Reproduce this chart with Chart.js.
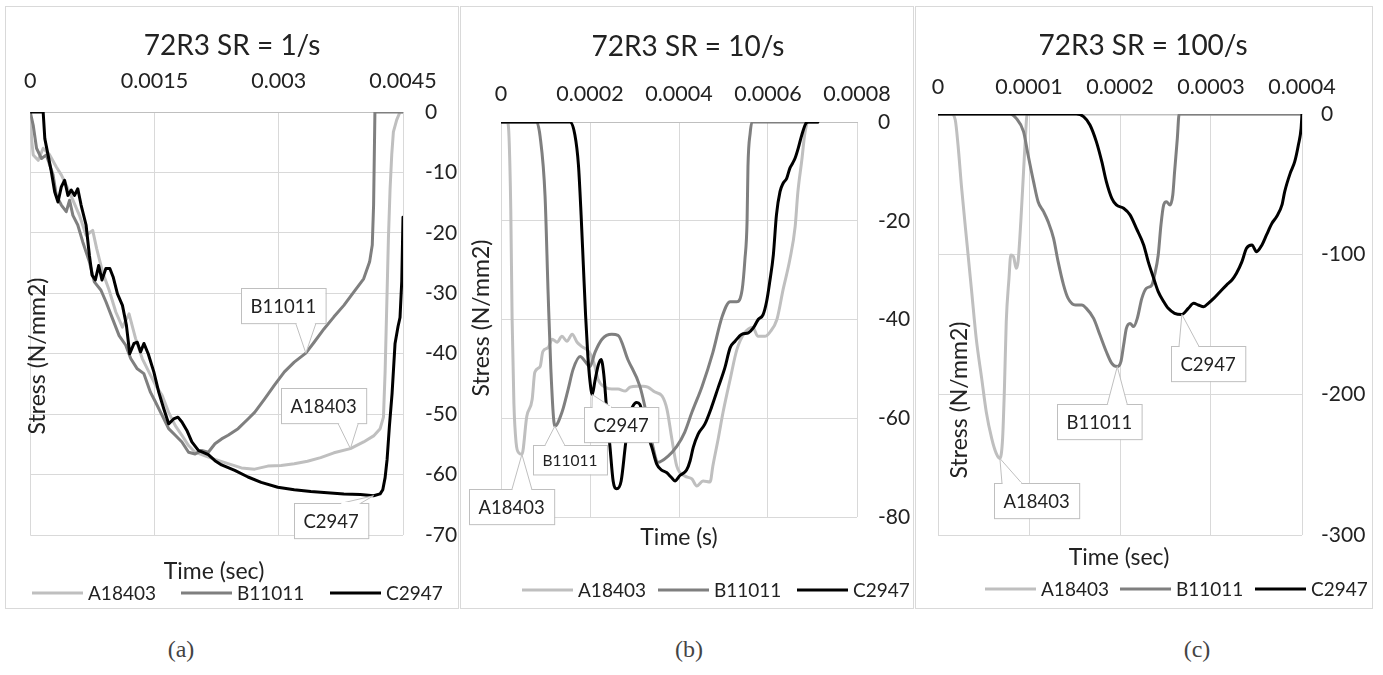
<!DOCTYPE html>
<html>
<head>
<meta charset="utf-8">
<script src="https://cdn.jsdelivr.net/npm/chart.js@4.4.1/dist/chart.umd.min.js"></script>
<style>
body{margin:0;background:#fff;width:1383px;height:675px;position:relative;overflow:hidden}
.panel{position:absolute;top:6px;height:603px;border:1px solid #d9d9d9;box-sizing:border-box}
canvas{position:absolute}
.cap{position:absolute;top:636px;width:60px;margin-left:-30px;text-align:center;font-family:'Liberation Serif',serif;font-size:24px;color:#444}
</style>
</head>
<body>
<div class="panel" style="left:5px;width:454px"></div>
<div class="panel" style="left:460px;width:454px"></div>
<div class="panel" style="left:915px;width:458px"></div>
<canvas id="chSR1"></canvas>
<canvas id="chSR10"></canvas>
<canvas id="chSR100"></canvas>
<div class="cap" style="left:181px">(a)</div>
<div class="cap" style="left:689px">(b)</div>
<div class="cap" style="left:1197px">(c)</div>
<script>
// series + colours
const seriesNames=['A18403','B11011','C2947'];
const seriesColors=['#bfbfbf','#7f7f7f','#000000'];

// time in microseconds, stress in N/mm2
// SR = 1/s
const sr1XTicks=[0,0.0015,0.003,0.0045];
const sr1YTicks=[0,-10,-20,-30,-40,-50,-60,-70];
const sr1TimeA=[0,16,36,96,156,235,315,375,435,515,594,674,754,802,874,953,1033,1113,1193,1272,1352,1432,1512,1592,1671,1751,1831,1911,1991,2110,2230,2389,2549,2709,2868,3028,3187,3347,3506,3666,3865,4025,4145,4224,4264,4284,4304,4324,4344,4364,4384,4424,4464,4500];
const sr1StressA=[0,-4.4,-7.1,-8.0,-6.0,-7.1,-9.1,-10.4,-12.1,-14.6,-17.1,-20.4,-19.6,-22.6,-26.5,-29.5,-33.1,-35.6,-33.4,-37.5,-40.8,-43.0,-45.2,-46.9,-49.7,-51.9,-53.5,-55.2,-56.3,-56.9,-57.5,-58.2,-58.9,-59.1,-58.6,-58.5,-58.2,-57.8,-57.2,-56.4,-55.7,-54.6,-53.6,-52.4,-50.5,-43.0,-32.0,-20.9,-12.7,-7.1,-3.3,-1.3,0,0];
const sr1TimeB=[0,36,76,136,195,275,315,375,435,475,515,574,634,714,774,854,914,993,1073,1153,1213,1292,1372,1452,1512,1592,1671,1751,1831,1911,1991,2070,2150,2230,2310,2389,2509,2629,2709,2828,2948,3068,3187,3327,3427,3546,3666,3786,3905,4025,4097,4129,4145,4161,4500];
const sr1StressB=[0,-2.2,-6.0,-7.7,-7.1,-10.4,-13.8,-15.4,-16.5,-14.6,-17.1,-18.7,-21.5,-24.8,-28.1,-29.5,-31.4,-34.2,-37.0,-38.6,-40.8,-42.5,-43.3,-46.4,-48.0,-50.2,-52.4,-53.5,-54.6,-56.3,-56.6,-56.0,-56.3,-54.9,-54.1,-53.5,-52.4,-50.8,-49.7,-47.5,-45.2,-43.0,-41.4,-39.9,-38.1,-35.9,-33.9,-32.0,-29.8,-27.6,-24.8,-22.0,-15.4,0,0];
const sr1TimeC=[0,156,176,215,255,295,335,375,415,455,495,535,574,614,674,714,746,786,826,866,913,961,1001,1053,1113,1161,1201,1253,1292,1332,1372,1424,1492,1552,1612,1671,1731,1783,1831,1891,1951,2030,2150,2230,2310,2469,2629,2788,2988,3187,3387,3586,3786,3985,4145,4224,4256,4284,4308,4336,4368,4404,4440,4464,4485,4500];
const sr1StressC=[0,0,-4.4,-7.1,-9.9,-13.2,-14.9,-12.4,-11.3,-13.8,-12.9,-13.8,-12.7,-15.4,-18.7,-23.7,-27.0,-27.8,-25.4,-27.8,-25.9,-25.9,-27.3,-30.1,-32.0,-35.3,-40.0,-38.3,-38.1,-39.7,-38.3,-40.0,-43.0,-46.4,-49.1,-51.6,-50.8,-50.5,-51.3,-52.7,-54.6,-56.0,-56.7,-57.7,-58.4,-59.3,-60.4,-61.3,-62.1,-62.5,-62.8,-63.0,-63.2,-63.3,-63.5,-63.2,-62.5,-60.5,-57.5,-52.0,-46.6,-38.3,-35.5,-34.0,-28.0,-17.4];

// SR = 10/s
const sr10XTicks=[0,0.0002,0.0004,0.0006,0.0008];
const sr10YTicks=[0,-20,-40,-60,-80];
const sr10TimeA=[0,14,18,22,25,29,34,40,47,58,70,76,88,94,106,115,126,137,148,160,171,182,193,204,211,218,234,249,263,279,290,306,319,330,346,362,373,384,395,413,429,440,454,470,476,488,499,515,530,548,566,577,593,604,620,634,649,661,667,676,683,690,712];
const sr10StressA=[0,0,-3,-18,-40,-57,-65,-67,-67.3,-59.6,-56.2,-50.7,-49.5,-46.5,-45.7,-44.0,-44.6,-43.4,-44.4,-43.0,-44.6,-45.5,-46.1,-47.5,-49.5,-52.1,-53.7,-54.1,-54.1,-54.5,-53.7,-53.5,-53.5,-53.7,-54.7,-55.5,-58.2,-64.2,-69.7,-71.7,-72.3,-73.7,-72.7,-72.9,-69.7,-64.2,-58.8,-52.1,-46.1,-42.6,-41.6,-43.4,-43.4,-42.6,-40.0,-33.9,-27.9,-21.2,-14.3,-7.7,-2.2,0,0];
const sr10TimeB=[0,80,88,99,106,112,121,137,151,162,178,189,200,211,227,249,263,285,312,328,339,353,375,395,413,429,452,476,497,515,530,542,548,553,555,560,564,712];
const sr10StressB=[0,0,-3,-15,-35,-50,-61.6,-58.8,-54.1,-50.1,-47.5,-48.5,-49.5,-46.7,-44.0,-43.0,-43.2,-48.1,-53.5,-59.6,-64.8,-68.9,-67.7,-65.7,-62.8,-58.8,-53.5,-46.7,-39.4,-36.4,-36.4,-33.9,-28,-20,-9,-2.2,0,0];
const sr10TimeC=[0,155,166,174,180,185,190,195,200,205,211,219,225,231,237,245,252,260,270,279,286,295,305,312,327,339,350,361,372,383,391,402,417,425,432,443,458,473,488,503,515,526,541,556,567,578,589,597,604,612,619,627,634,642,649,655,661,668,676,685,691,712];
const sr10StressC=[0,0,-2.6,-8.7,-18.8,-28.9,-39.0,-47.1,-52.5,-55.2,-52.5,-49.1,-48.1,-51.1,-57.8,-65.9,-72.7,-74.3,-72.7,-65.9,-60.5,-57.8,-56.8,-57.2,-62.6,-65.9,-69.3,-70.5,-71.0,-72.0,-72.7,-71.6,-70.5,-68.6,-65.9,-63.2,-61.2,-57.8,-53.8,-49.8,-45.7,-44.4,-43.0,-42.7,-41.7,-40.0,-39.0,-36.3,-32.3,-26.9,-18.8,-14.1,-12.4,-11.4,-9.4,-8.4,-7.3,-5.3,-2.6,-0.3,0,0];

// SR = 100/s
const sr100XTicks=[0,0.0001,0.0002,0.0003,0.0004];
const sr100YTicks=[0,-100,-200,-300];
const sr100TimeA=[0,15,19,22,26,32,37,42,48,53,59,64,68,71,73,75,78,80,83,86,88,91,94,96,98,400];
const sr100StressA=[0,0,-4.3,-22.1,-53.0,-93.3,-126.6,-159.9,-188.4,-212.1,-231.1,-241.8,-245.4,-231.1,-195.5,-148.0,-117.1,-100.5,-101.7,-110.0,-105.2,-76.7,-41.1,-17.3,0,0];
const sr100TimeB=[0,79,86,94,99,105,110,116,121,127,132,138,143,151,158,163,171,178,185,191,197,201,204,207,211,215,219,224,229,235,238,242,245,248,251,255,258,260,263,265,400];
const sr100StressB=[0,0,-3.1,-12.6,-29.2,-48.2,-62.5,-69.6,-76.7,-88.6,-105.2,-121.9,-131.4,-136.1,-136.1,-138.5,-145.6,-157.5,-169.4,-177.7,-180.0,-176.5,-164.6,-152.7,-149.2,-151.5,-145.6,-131.4,-124.2,-121.9,-114.7,-100.5,-79.1,-64.8,-62.5,-64.8,-57.7,-41.1,-17.3,0,0];
const sr100TimeC=[0,152,160,167,174,180,185,191,196,204,211,218,226,231,237,242,248,253,260,268,275,281,286,292,297,303,310,317,323,328,334,339,345,350,356,361,367,372,378,381,387,392,396,399,400];
const sr100StressC=[0,0,-1.9,-7.8,-19.7,-34.0,-48.2,-60.1,-64.8,-67.2,-71.9,-81.5,-93.3,-105.2,-117.1,-126.6,-133.7,-138.5,-142.0,-142.8,-138.5,-134.9,-136.1,-137.3,-134.9,-131.4,-126.6,-121.9,-118.3,-113.5,-105.2,-95.7,-93.3,-98.1,-93.3,-86.2,-77.9,-73.2,-64.8,-55.3,-42.3,-34.0,-22.1,-10.2,0];

const FONT='Lato, "Open Sans", sans-serif';
const INK='#222';

// page layout (absolute px) for each panel
const panelSR1={id:'chSR1',title:'72R3 SR = 1/s',xTitle:'Time (sec)',left:6,top:7,w:451,h:600,
  area:{l:27,t:112,r:403,b:535},titleAt:[232,46],xTitleAt:[214,572],yTitleAt:[38,356],
  legendX:[32,181,330],legendY:593,xPad:18,yPad:22,smooth:false,
  xTicks:sr1XTicks,yTicks:sr1YTicks,
  series:[[sr1TimeA,sr1StressA],[sr1TimeB,sr1StressB],[sr1TimeC,sr1StressC]],
  callouts:[{s:1,at:3327,dx:-23,dy:-48},{s:0,at:3865,dx:-27,dy:-43},{s:2,at:4145,dx:-42,dy:25}]};
const panelSR10={id:'chSR10',title:'72R3 SR = 10/s',xTitle:'Time (s)',left:461,top:7,w:451,h:600,
  area:{l:501,t:122,r:857,b:517},titleAt:[688,47],xTitleAt:[679,538],yTitleAt:[482,318],
  legendX:[522,658,797],legendY:590,xPad:15,yPad:21,smooth:true,
  xTicks:sr10XTicks,yTicks:sr10YTicks,
  series:[[sr10TimeA,sr10StressA],[sr10TimeB,sr10StressB],[sr10TimeC,sr10StressC]],
  callouts:[{s:2,at:205,dx:29,dy:30},{s:1,at:121,dx:15,dy:34,fs:15.5},{s:0,at:47,dx:-10,dy:52}]};
const panelSR100={id:'chSR100',title:'72R3 SR = 100/s',xTitle:'Time (sec)',left:916,top:7,w:455,h:600,
  area:{l:938,t:114,r:1302,b:535},titleAt:[1143,46],xTitleAt:[1119,558],yTitleAt:[960,400],
  legendX:[985,1120,1255],legendY:589,xPad:14,yPad:19,smooth:true,
  xTicks:sr100XTicks,yTicks:sr100YTicks,
  series:[[sr100TimeA,sr100StressA],[sr100TimeB,sr100StressB],[sr100TimeC,sr100StressC]],
  callouts:[{s:0,at:68,dx:37,dy:42},{s:1,at:197,dx:-18,dy:55},{s:2,at:268,dx:26,dy:49}]};

function drawCallout(ctx,p,c,text){
  const fs=c.fs||18.5;
  ctx.font=`${fs}px ${FONT}`;
  const w=ctx.measureText(text).width+19,h=fs*1.9;
  const bx=Math.round(p.x+c.dx-w/2),by=Math.round(p.y+c.dy-h/2);
  const up=p.y<by;
  const ey=up?by:by+h;
  const mx=Math.min(Math.max(p.x,bx+18),bx+w-18);
  ctx.fillStyle='#fff';ctx.strokeStyle='#bfbfbf';ctx.lineWidth=1;
  ctx.fillRect(bx,by,w,h);ctx.strokeRect(bx+.5,by+.5,w,h);
  ctx.beginPath();ctx.moveTo(mx-10,ey+.5);ctx.lineTo(p.x,p.y);ctx.lineTo(mx+10,ey+.5);
  ctx.fill();ctx.stroke();
  ctx.fillRect(mx-9,ey-1,18,3);
  ctx.fillStyle=INK;ctx.textAlign='center';ctx.textBaseline='middle';
  ctx.fillText(text,bx+w/2,by+h/2+1);
}

// titles, axis titles, legend and callouts, placed as in the Excel export
const excelDecor={
  id:'excelDecor',
  afterDraw(chart,args,o){
    const ctx=chart.ctx,ox=o.left,oy=o.top;
    ctx.save();
    ctx.fillStyle=INK;ctx.textAlign='center';ctx.textBaseline='middle';
    ctx.font=`28px ${FONT}`;ctx.fillText(o.title,o.titleAt[0]-ox,o.titleAt[1]-oy);
    ctx.font=`23px ${FONT}`;ctx.fillText(o.xTitle,o.xTitleAt[0]-ox,o.xTitleAt[1]-oy);
    ctx.save();ctx.translate(o.yTitleAt[0]-ox,o.yTitleAt[1]-oy);ctx.rotate(-Math.PI/2);
    ctx.fillText('Stress (N/mm2)',0,0);ctx.restore();
    // legend
    ctx.font=`19px ${FONT}`;ctx.textAlign='left';
    seriesNames.forEach((n,i)=>{
      const x0=o.legendX[i]-ox,y=o.legendY-oy;
      ctx.strokeStyle=seriesColors[i];ctx.lineWidth=3;
      ctx.beginPath();ctx.moveTo(x0,y);ctx.lineTo(x0+51,y);ctx.stroke();
      ctx.fillStyle=INK;ctx.fillText(n,x0+56,y+1);
    });
    // data callouts
    o.callouts.forEach(c=>{
      const idx=o.series[c.s][0].indexOf(c.at);
      const pt=chart.getDatasetMeta(c.s).data[idx];
      if(pt)drawCallout(ctx,pt,c,seriesNames[c.s]);
    });
    ctx.restore();
  }
};

function makeChart(P){
  const el=document.getElementById(P.id);
  el.width=P.w;el.height=P.h;
  el.style.left=P.left+'px';el.style.top=P.top+'px';
  const xt=P.xTicks,yt=P.yTicks;
  const ch=new Chart(el,{
    type:'line',
    data:{datasets:P.series.map(([t,s],i)=>({
      label:seriesNames[i],
      data:t.map((v,j)=>({x:v/1e6,y:s[j]})),
      borderColor:seriesColors[i],borderWidth:3,pointRadius:0,
      borderJoinStyle:'round',borderCapStyle:'round',
      order:3-i,tension:0,cubicInterpolationMode:P.smooth?'monotone':'default'
    }))},
    options:{
      responsive:false,animation:false,events:[],
      layout:{autoPadding:false,padding:{left:P.area.l-P.left,top:0,right:0,bottom:P.top+P.h-P.area.b}},
      plugins:{legend:{display:false},tooltip:{enabled:false},excelDecor:P},
      scales:{
        x:{type:'linear',position:'top',min:xt[0],max:xt[xt.length-1],
          afterFit:s=>{s.height=P.area.t-P.top;},
          afterBuildTicks:s=>{s.ticks=xt.map(v=>({value:v}));},
          ticks:{callback:v=>String(+v.toFixed(6)),font:{family:FONT,size:21.5},color:INK,padding:P.xPad,maxRotation:0,autoSkip:false},
          grid:{color:'#d9d9d9',drawTicks:false},border:{display:true,color:'#bfbfbf'}},
        y:{type:'linear',position:'right',min:yt[yt.length-1],max:yt[0],
          afterFit:s=>{s.width=P.left+P.w-P.area.r;},
          afterBuildTicks:s=>{s.ticks=yt.map(v=>({value:v}));},
          ticks:{font:{family:FONT,size:21},color:INK,padding:P.yPad,autoSkip:false},
          grid:{color:'#d9d9d9',drawTicks:false},border:{display:false}}
      }
    },
    plugins:[excelDecor]
  });
  // pin the plot area to the reference position (a few passes, layout is not linear)
  for(let k=0;k<6;k++){
    const ca=ch.chartArea,pad=ch.options.layout.padding;
    const dl=(P.area.l-P.left)-ca.left,dr=ca.right-(P.area.r-P.left),db=ca.bottom-(P.area.b-P.top);
    if(Math.abs(dl)<0.5&&Math.abs(dr)<0.5&&Math.abs(db)<0.5)break;
    pad.left=Math.max(0,pad.left+dl);pad.right=Math.max(0,pad.right+dr);pad.bottom+=db;
    ch.update();
  }
  return ch;
}

[panelSR1,panelSR10,panelSR100].forEach(makeChart);
</script>
</body>
</html>
